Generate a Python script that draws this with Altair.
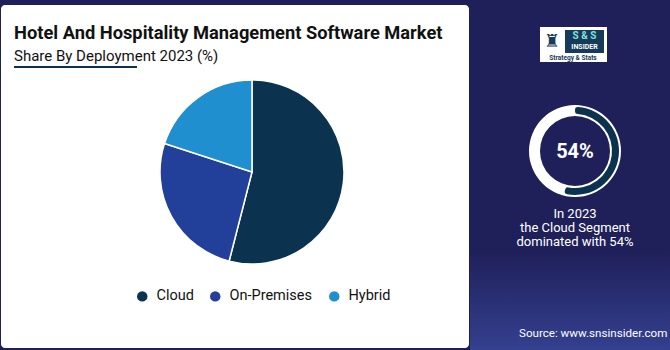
import math
import altair as alt
import pandas as pd

# ---- data ----
segments = ["Cloud", "On-Premises", "Hybrid"]
shares = [54, 26, 20]
colors = ["#0b3350", "#22409a", "#1f8fcf"]
title_text = "Hotel And Hospitality Management Software Market"
subtitle_text = "Share By Deployment 2023 (%)"
highlight_segment = "Cloud"
highlight_share = 54
highlight_year = 2023
source_text = "Source: www.snsinsider.com"

NAVY = "#1f1f59"
FONT = "Roboto"

W, H = 670, 350

pie_df = pd.DataFrame({"Segment": segments, "Share": shares, "order": list(range(len(segments)))})
one = pd.DataFrame({"a": [0]})

# white panel
panel = alt.Chart(one).mark_rect(color="white", cornerRadius=4).encode(
    x=alt.value(1), x2=alt.value(469), y=alt.value(5), y2=alt.value(348)
)

# title
title = alt.Chart(one).mark_text(
    text=title_text, font=FONT, fontSize=18.3, fontWeight="bold", align="left",
    baseline="alphabetic", color="#111111"
).encode(x=alt.value(14), y=alt.value(39))

subtitle = alt.Chart(one).mark_text(
    text=subtitle_text, font=FONT, fontSize=15, align="left",
    baseline="alphabetic", color="#111111"
).encode(x=alt.value(14), y=alt.value(61))

underline = alt.Chart(one).mark_rule(color="#0b3350", strokeWidth=2).encode(
    x=alt.value(14), x2=alt.value(137), y=alt.value(67)
)

# pie
pie = alt.Chart(pie_df).mark_arc(outerRadius=92, stroke="white", strokeWidth=1.5).encode(
    theta=alt.Theta("Share:Q", stack=True),
    order=alt.Order("order:Q"),
    color=alt.Color(
        "Segment:N",
        scale=alt.Scale(domain=segments, range=colors),
        sort=segments,
        legend=alt.Legend(
            title=None, orient="none", legendX=135, legendY=289, direction="horizontal",
            symbolType="circle", symbolSize=110, symbolStrokeWidth=0,
            labelFont=FONT, labelFontSize=14.5, labelColor="#111111",
            columnPadding=14, labelOffset=7,
        ),
    ),
    x=alt.value(252),
    y=alt.value(172),
)

# ring on right
cx, cy = 575, 151
ring_bg = alt.Chart(one).mark_arc(innerRadius=35, outerRadius=46, color="white").encode(
    theta=alt.value(0), theta2=alt.value(2 * math.pi), x=alt.value(cx), y=alt.value(cy)
)
ring_fg = alt.Chart(one).mark_arc(innerRadius=37, outerRadius=44, color="#0b3350", cornerRadius=3).encode(
    theta=alt.value(0), theta2=alt.value(highlight_share / 100 * 2 * math.pi),
    x=alt.value(cx), y=alt.value(cy)
)
ring_text = alt.Chart(one).mark_text(
    text=f"{highlight_share}%", font=FONT, fontSize=20, fontWeight="bold", color="white",
    align="center", baseline="middle"
).encode(x=alt.value(cx), y=alt.value(cy + 1))

desc_lines = [f"In {highlight_year}", f"the {highlight_segment} Segment", f"dominated with {highlight_share}%"]
desc_layers = [
    alt.Chart(one).mark_text(
        text=line, font=FONT, fontSize=13, color="white", align="center", baseline="middle"
    ).encode(x=alt.value(cx), y=alt.value(214 + 14 * i))
    for i, line in enumerate(desc_lines)
]

# lighter wave area at bottom right
wave = alt.Chart(one).mark_rect(
    color=alt.Gradient(
        gradient="linear", x1=0, x2=0, y1=0, y2=1,
        stops=[alt.GradientStop(color=NAVY, offset=0), alt.GradientStop(color="#34408f", offset=1)],
    )
).encode(x=alt.value(470), x2=alt.value(670), y=alt.value(250), y2=alt.value(350))

source = alt.Chart(one).mark_text(
    text=source_text, font=FONT, fontSize=11.6, color="white", align="left", baseline="middle"
).encode(x=alt.value(519), y=alt.value(334))

# logo
logo_box = alt.Chart(one).mark_rect(color="white").encode(
    x=alt.value(540), x2=alt.value(607), y=alt.value(27), y2=alt.value(62)
)
logo_dark = alt.Chart(one).mark_rect(color="#163a5a").encode(
    x=alt.value(565), x2=alt.value(604), y=alt.value(30), y2=alt.value(53)
)
logo_ss = alt.Chart(one).mark_text(
    text="S & S", font=FONT, fontSize=10, fontWeight="bold", color="#7fe0d8", align="center", baseline="middle"
).encode(x=alt.value(584.5), y=alt.value(36))
logo_ins = alt.Chart(one).mark_text(
    text="INSIDER", font=FONT, fontSize=7, fontWeight="bold", color="white", align="center", baseline="middle"
).encode(x=alt.value(584.5), y=alt.value(47))
logo_tag = alt.Chart(one).mark_text(
    text="Strategy & Stats", font=FONT, fontSize=6.5, fontWeight="bold", color="#163a5a", align="center", baseline="middle"
).encode(x=alt.value(573), y=alt.value(57.5))
logo_icon = alt.Chart(one).mark_text(
    text="♜", font="DejaVu Sans", fontSize=18, color="#163a5a", align="center", baseline="middle"
).encode(x=alt.value(552), y=alt.value(42))

chart = alt.layer(
    wave, panel, title, subtitle, underline, pie,
    ring_bg, ring_fg, ring_text, *desc_layers, source,
    logo_box, logo_dark, logo_ss, logo_ins, logo_tag, logo_icon,
).properties(
    width=W, height=H, background=NAVY, padding=0,
    autosize=alt.AutoSizeParams(type="none"),
).configure_view(stroke=None)

chart.save("out.html", embed_options={"renderer": "svg", "actions": False})
